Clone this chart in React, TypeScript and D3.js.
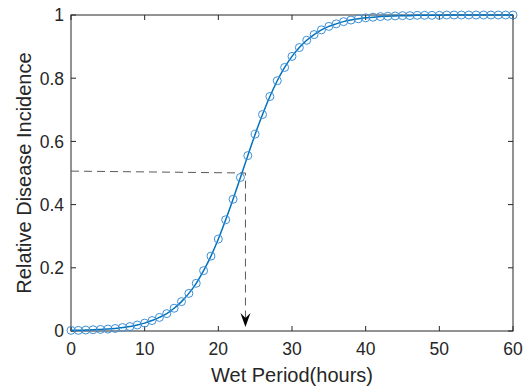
import React from "react";
import * as d3 from "d3";

const hours: number[] = d3.range(0, 61);
const incidence: number[] = [
  0.002, 0.002, 0.003, 0.004, 0.005, 0.006, 0.008, 0.011, 0.014, 0.019,
  0.025, 0.033, 0.043, 0.055, 0.072, 0.093, 0.119, 0.151, 0.191, 0.237,
  0.291, 0.352, 0.417, 0.486, 0.555, 0.623, 0.685, 0.742, 0.792, 0.834,
  0.869, 0.897, 0.92, 0.938, 0.953, 0.964, 0.972, 0.979, 0.984, 0.988,
  0.991, 0.993, 0.995, 0.996, 0.997, 0.998, 0.998, 0.999, 0.999, 0.999,
  0.999, 1.0, 1.0, 1.0, 1.0, 1.0, 1.0, 1.0, 1.0, 1.0, 1.0,
];
const xTicks: number[] = [0, 10, 20, 30, 40, 50, 60];
const yTicks: number[] = [0, 0.2, 0.4, 0.6, 0.8, 1];
const guideX = 23.68;
const guideYStart = 0.506;
const guideYEnd = 0.5;

const W = 528;
const H = 390;
const L = 71, R = 513, T = 15, B = 331;
const axisColor = "#262626";
const font = "'Liberation Sans', Arial, Helvetica, sans-serif";

export default function App() {
  const x = d3.scaleLinear().domain([0, 60]).range([L, R]);
  const y = d3.scaleLinear().domain([0, 1]).range([B, T]);
  const pts = hours.map((h, i) => [h, incidence[i]] as [number, number]);
  const line = d3
    .line<[number, number]>()
    .x((d) => x(d[0]))
    .y((d) => y(d[1]))
    .curve(d3.curveMonotoneX);
  const tl = 5;
  const gx = x(guideX);
  const arrowTip = y(0) - 4;
  return (
    <svg
      width={W}
      height={H}
      style={{ position: "absolute", left: 0, top: 0, background: "#fff" }}
    >
      <rect x={0} y={0} width={W} height={H} fill="#fff" />
      {/* ticks */}
      {xTicks.map((t) => (
        <g key={"xt" + t}>
          <line x1={x(t)} x2={x(t)} y1={B} y2={B - tl} stroke={axisColor} strokeWidth={1} />
          <line x1={x(t)} x2={x(t)} y1={T} y2={T + tl} stroke={axisColor} strokeWidth={1} />
          <text
            x={x(t)}
            y={355}
            textAnchor="middle"
            fontFamily={font}
            fontSize={17.5}
            fill={axisColor}
          >
            {t}
          </text>
        </g>
      ))}
      {yTicks.map((t) => (
        <g key={"yt" + t}>
          <line x1={L} x2={L + tl} y1={y(t)} y2={y(t)} stroke={axisColor} strokeWidth={1} />
          <line x1={R} x2={R - tl} y1={y(t)} y2={y(t)} stroke={axisColor} strokeWidth={1} />
          <text
            x={64}
            y={y(t)}
            dy="0.36em"
            textAnchor="end"
            fontFamily={font}
            fontSize={17.5}
            fill={axisColor}
          >
            {d3.format("~g")(t)}
          </text>
        </g>
      ))}
      {/* box */}
      <rect x={L} y={T} width={R - L} height={B - T} fill="none" stroke={axisColor} strokeWidth={1} />
      {/* guide lines */}
      <path
        d={`M${x(0)},${y(guideYStart)} L${gx},${y(guideYEnd)} L${gx},${arrowTip - 8}`}
        fill="none"
        stroke="#5a5a5a"
        strokeWidth={1}
        strokeDasharray="8,5"
      />
      <path
        d={`M${gx},${arrowTip} L${gx - 5},${arrowTip - 14} L${gx},${arrowTip - 9} L${gx + 5},${arrowTip - 14} Z`}
        fill="#000"
      />
      {/* curve */}
      <path d={line(pts) || ""} fill="none" stroke="#0072BD" strokeWidth={1.5} />
      {pts.map((d, i) => (
        <circle
          key={i}
          cx={x(d[0])}
          cy={y(d[1])}
          r={4}
          fill="none"
          stroke="#3d8fd6"
          strokeWidth={1}
        />
      ))}
      {/* labels */}
      <text
        x={(L + R) / 2}
        y={382}
        textAnchor="middle"
        fontFamily={font}
        fontSize={20}
        fill={axisColor}
      >
        Wet Period(hours)
      </text>
      <text
        transform={`translate(31,${(T + B) / 2}) rotate(-90)`}
        textAnchor="middle"
        fontFamily={font}
        fontSize={20}
        fill={axisColor}
      >
        Relative Disease Incidence
      </text>
    </svg>
  );
}
